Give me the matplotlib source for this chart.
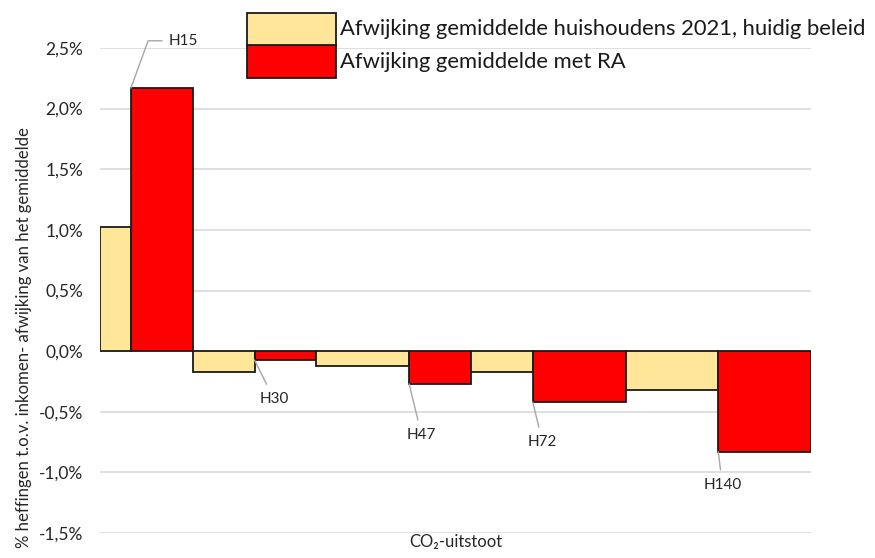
import numpy as np
import matplotlib.pyplot as plt
from matplotlib.patches import Rectangle
from matplotlib.ticker import FuncFormatter, MultipleLocator

plt.rcParams['font.family'] = ['Lato', 'DejaVu Sans']

# household groups, relative bar widths and deviations (%)
groups = ["H15", "H15", "H30", "H30", "H47", "H47", "H72", "H72", "H140", "H140"]
series = ["huidig", "RA"] * 5
widths = [1, 2, 2, 2, 3, 2, 2, 3, 3, 3]
values = [1.02, 2.17, -0.17, -0.074, -0.12, -0.27, -0.17, -0.42, -0.32, -0.83]

legend_labels = ["Afwijking gemiddelde huishoudens 2021, huidig beleid",
                 "Afwijking gemiddelde met RA"]
colors = {"huidig": "#FFE699", "RA": "#FF0000"}

W, H = 875, 558
lefts = np.concatenate([[0], np.cumsum(widths)[:-1]])

fig = plt.figure(figsize=(W / 100, H / 100), dpi=100)
ax = fig.add_axes([100 / W, 25 / H, 711 / W, 485 / H])

ax.bar(lefts, values, width=widths, align='edge',
       color=[colors[s] for s in series], edgecolor='#1a1a1a', linewidth=1.3, zorder=3)

ax.set_xlim(0, sum(widths))
ax.set_ylim(-1.5, 2.5)
ax.yaxis.set_major_locator(MultipleLocator(0.5))
ax.yaxis.set_major_formatter(FuncFormatter(lambda v, p: f"{v:.1f}%".replace('.', ',')))
ax.grid(axis='y', color='#d9d9d9', linewidth=1.2, zorder=0)
ax.set_xticks([])
ax.tick_params(axis='y', length=0, pad=12, labelsize=12.5, labelcolor='#262626')
for s in ax.spines.values():
    s.set_visible(False)

ax.set_ylabel("% heffingen t.o.v. inkomen- afwijking van het gemiddelde",
              fontsize=12.1, color='#262626')
ax.yaxis.set_label_coords(-0.096, 0.402)
ax.set_xlabel("CO\u2082-uitstoot", fontsize=12, color='#262626', labelpad=1)

# group labels with leader lines, at the left edge of the RA bars
offsets = {"H15": (38, 34), "H30": (14, -28), "H47": (9, -37),
           "H72": (7, -29), "H140": (3, -24)}
for i in range(1, len(values), 2):
    g = groups[i]
    dx, dy = offsets[g]
    if g == "H15":
        arrow = dict(arrowstyle='-', color='#a6a6a6', lw=1,
                     connectionstyle='angle,angleA=0,angleB=70,rad=0', shrinkA=3, shrinkB=0)
    else:
        arrow = dict(arrowstyle='-', color='#a6a6a6', lw=1, shrinkA=4, shrinkB=0)
    ax.annotate(g, xy=(lefts[i], values[i]), xytext=(dx, dy), textcoords='offset points',
                ha='center', va='center', fontsize=11, color='#262626',
                annotation_clip=False, arrowprops=arrow)

# legend box drawn in figure pixels: two stacked swatches with labels
for k, (key, label) in enumerate(zip(["huidig", "RA"], legend_labels)):
    y0 = 13 + 32.5 * k
    fig.add_artist(Rectangle((247 / W, 1 - (y0 + 32.5) / H), 89 / W, 32.5 / H,
                             transform=fig.transFigure, facecolor=colors[key],
                             edgecolor='#1a1a1a', linewidth=1.3))
    fig.text(340 / W, 1 - (y0 + 16) / H, label, ha='left', va='center',
             fontsize=15.8, color='#1a1a1a')

fig.savefig("out.png", dpi=100)
